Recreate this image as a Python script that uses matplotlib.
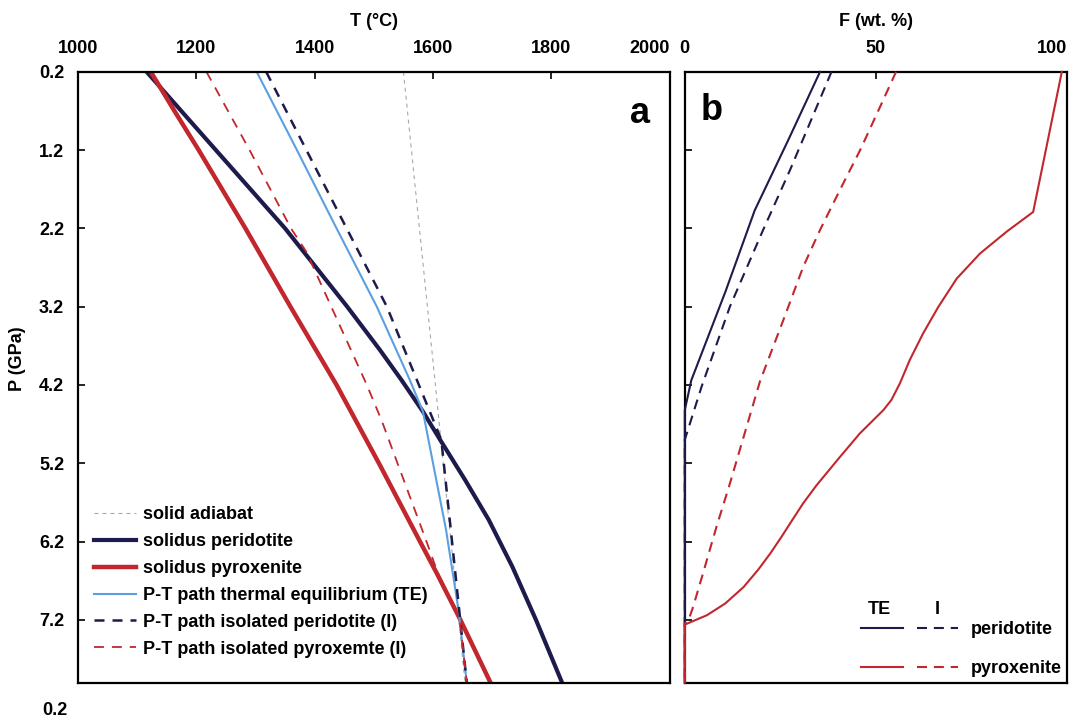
import matplotlib
matplotlib.use('Agg')
import matplotlib.pyplot as plt
from matplotlib.legend_handler import HandlerTuple

plt.rcParams['font.family'] = ['Liberation Sans', 'DejaVu Sans']
plt.rcParams['font.weight'] = 'bold'
plt.rcParams['axes.labelweight'] = 'bold'

NAVY = '#1d1b4c'
RED = '#c1272d'
BLUE = '#5b9fdf'
GREY = '#a8a8a8'
FS = 13

# panel a: temperature (C) along pressure (GPa)
adiabat_P = [0.2, 4.2, 8.0]
adiabat_T = [1550, 1604, 1654]

sol_per_P = [0.2, 1.2, 2.2, 3.2, 3.75, 4.14, 4.54, 4.9, 5.41, 5.92, 6.52, 7.2, 8.0]
sol_per_T = [1116, 1233, 1350, 1455, 1510, 1547, 1583, 1612, 1654, 1694, 1734, 1774, 1818]

sol_pyx_P = [0.2, 0.7, 1.2, 2.2, 3.2, 4.2, 5.22, 6.2, 6.6, 7.18, 8.0]
sol_pyx_T = [1123, 1163, 1204, 1283, 1359, 1437, 1510, 1578, 1606, 1645, 1697]

te_P = [0.2, 1.2, 2.2, 3.2, 4.14, 4.54, 5.2, 6.05, 7.07, 8.0]
te_T = [1302, 1370, 1437, 1505, 1561, 1583, 1600, 1622, 1643, 1657]

iso_per_P = [0.2, 1.2, 2.2, 3.2, 4.16, 4.9, 6.48, 8.0]
iso_per_T = [1318, 1386, 1454, 1522, 1574, 1614, 1636, 1657]

iso_pyx_P = [0.2, 1.2, 2.2, 2.5, 3.2, 4.18, 4.65, 5.2, 5.71, 6.22, 6.6, 7.18, 8.0]
iso_pyx_T = [1217, 1290, 1360, 1386, 1428, 1487, 1513, 1540, 1565, 1590, 1608, 1645, 1657]

# panel b: melt fraction F (wt. %) along pressure (GPa)
F_te_per_P = [0.2, 1.07, 1.97, 3.0, 4.14, 4.52, 8.0]
F_te_per = [35.4, 27.1, 18.3, 10.7, 1.7, 0, 0]

F_i_per_P = [0.2, 1.46, 2.22, 3.2, 4.22, 4.56, 4.9, 8.0]
F_i_per = [38.4, 27.5, 20.5, 11.8, 4.4, 2.2, 0, 0]

F_te_pyx_P = [0.2, 1.99, 2.24, 2.52, 2.84, 3.20, 3.54, 3.88, 4.18, 4.39, 4.52,
              4.82, 5.12, 5.48, 5.71, 5.92, 6.14, 6.35, 6.56, 6.78, 6.99, 7.14,
              7.26, 8.0]
F_te_pyx = [98.7, 91.2, 84.3, 77.3, 71.2, 66.4, 62.4, 58.9, 56.3, 54.1, 52.0,
            45.8, 40.6, 34.5, 31.0, 28.2, 25.3, 22.4, 19.2, 15.4, 10.6, 5.8,
            0, 0]

F_i_pyx_P = [0.2, 0.65, 1.2, 1.71, 2.22, 2.69, 3.37, 4.15, 4.73, 5.46, 6.01,
             6.6, 7.03, 7.2, 7.25, 8.0]
F_i_pyx = [55.3, 51.1, 45.9, 40.6, 35.4, 31.0, 25.8, 19.7, 16.2, 11.8, 8.3,
           4.8, 2.2, 1.0, 0, 0]

P_ticks = [0.2, 1.2, 2.2, 3.2, 4.2, 5.2, 6.2, 7.2]
T_ticks = [1000, 1200, 1400, 1600, 1800, 2000]
F_ticks = [0, 50, 100]

fig = plt.figure(figsize=(10.7, 7.18), dpi=100)
ax = fig.add_axes([0.0729, 0.0494, 0.553, 0.8506])
bx = fig.add_axes([0.640, 0.0494, 0.357, 0.8506])

for a in (ax, bx):
    a.set_ylim(8.0, 0.2)
    a.set_yticks(P_ticks)
    a.xaxis.tick_top()
    a.xaxis.set_label_position('top')
    a.tick_params(direction='in', length=5, width=1.2, labelsize=FS, top=True, bottom=False)
    a.tick_params(axis='x', pad=11)
    a.tick_params(axis='y', pad=10)
    for s in a.spines.values():
        s.set_linewidth(1.6)

# ---- panel a
ax.plot(adiabat_T, adiabat_P, color=GREY, lw=0.8, ls=(0, (3.6, 3.6)), label='solid adiabat')
ax.plot(sol_per_T, sol_per_P, color=NAVY, lw=3.0, label='solidus peridotite')
ax.plot(sol_pyx_T, sol_pyx_P, color=RED, lw=3.2, label='solidus pyroxenite')
ax.plot(te_T, te_P, color=BLUE, lw=1.5, label='P-T path thermal equilibrium (TE)')
ax.plot(iso_per_T, iso_per_P, color=NAVY, lw=1.8, ls=(0, (4, 3.2)), label='P-T path isolated peridotite (I)')
ax.plot(iso_pyx_T, iso_pyx_P, color=RED, lw=1.3, ls=(0, (5.5, 4.4)), label='P-T path isolated pyroxemte (I)')

ax.set_xlim(1000, 2000)
ax.set_xticks(T_ticks)
ax.xaxis.get_major_ticks()[-1].label2.set_horizontalalignment('right')
ax.set_xlabel('T (°C)', fontsize=FS)
ax.xaxis.set_label_coords(0.5, 1.075)
ax.set_ylabel('P (GPa)', fontsize=FS)
ax.yaxis.set_label_coords(-0.088, 0.53)
ax.text(-0.017, -0.045, '0.2', transform=ax.transAxes, ha='right', va='center', fontsize=FS)
ax.text(0.949, 0.932, 'a', transform=ax.transAxes, ha='center', va='center', fontsize=26)
ax.legend(loc='lower left', bbox_to_anchor=(0.0, 0.014), frameon=False, fontsize=FS,
          handlelength=2.3, handletextpad=0.4, labelspacing=0.55)

# ---- panel b
l1, = bx.plot(F_te_per, F_te_per_P, color=NAVY, lw=1.5, zorder=3, clip_on=False)
l2, = bx.plot(F_i_per, F_i_per_P, color=NAVY, lw=1.5, ls=(0, (4.8, 3.3)), zorder=3, clip_on=False)
l4, = bx.plot(F_i_pyx, F_i_pyx_P, color=RED, lw=1.5, ls=(0, (4.8, 3.3)), zorder=3, clip_on=False)
l3, = bx.plot(F_te_pyx, F_te_pyx_P, color=RED, lw=1.5, zorder=3, clip_on=False)

bx.set_xlim(0, 100)
bx.set_xticks(F_ticks)
bx.xaxis.get_major_ticks()[-1].label2.set_horizontalalignment('right')
bx.tick_params(axis='y', labelleft=False)
bx.set_xlabel('F (wt. %)', fontsize=FS)
bx.xaxis.set_label_coords(0.5, 1.075)
bx.text(0.071, 0.937, 'b', transform=bx.transAxes, ha='center', va='center', fontsize=26)
bx.legend([(l1, l2), (l3, l4)], ['peridotite', 'pyroxenite'], loc='lower right',
          frameon=False, fontsize=FS, handlelength=5.37, handletextpad=0.66,
          labelspacing=1.2, borderaxespad=0.2, borderpad=0.1,
          handler_map={tuple: HandlerTuple(ndivide=None, pad=0.78)})
bx.text(0.51, 0.12, 'TE', transform=bx.transAxes, ha='center', va='center', fontsize=FS)
bx.text(0.662, 0.12, 'I', transform=bx.transAxes, ha='center', va='center', fontsize=FS)

fig.savefig('out.png', dpi=100)
